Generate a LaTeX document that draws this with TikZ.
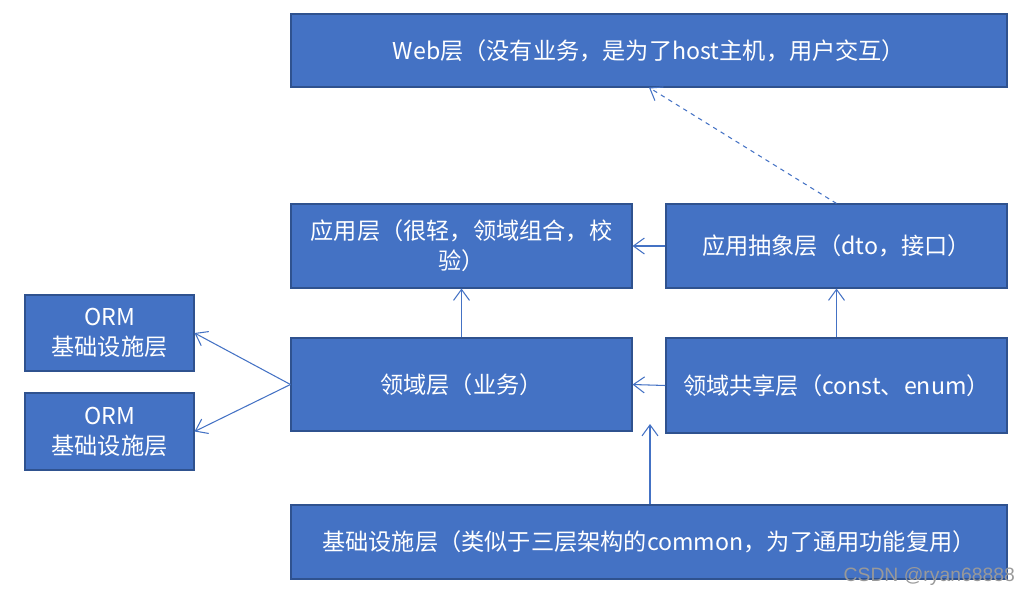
\documentclass[tikz,border=0pt]{standalone}
\usepackage{fontspec}
\setmainfont{Noto Sans CJK SC}
\newfontfamily\wmfont{Liberation Sans}
\usetikzlibrary{arrows.meta}
\definecolor{layerblue}{HTML}{4472C4}
\definecolor{layeredge}{HTML}{2F528F}

\begin{document}
\begin{tikzpicture}[every node/.style={font=\fontsize{13.2}{17}\selectfont}, layer/.style={draw=layeredge, line width=0.6pt, fill=layerblue, text=white, align=center, inner sep=0pt}, link/.style={draw=layerblue, line width=0.6pt, -{Straight Barb[length=2.2mm, width=3.2mm]}}]
	\useasboundingbox (0,0) rectangle (20.5,11.88);
	\node[layer, minimum width=14.32cm, minimum height=1.46cm] (web) at (12.98,10.87) {Web层（没有业务，是为了host主机，用户交互）};
	\node[layer, minimum width=6.82cm, minimum height=1.68cm] (app) at (9.23,6.96) {应用层（很轻，领域组合，校\\验）};
	\node[layer, minimum width=6.82cm, minimum height=1.68cm] (appabs) at (16.73,6.96) {应用抽象层（dto，接口）};
	\node[layer, minimum width=6.82cm, minimum height=1.86cm] (domain) at (9.23,4.19) {领域层（业务）};
	\node[layer, minimum width=6.82cm, minimum height=1.9cm] (shared) at (16.73,4.17) {领域共享层（const、enum）};
	\node[layer, minimum width=3.38cm, minimum height=1.52cm] (orma) at (2.19,5.22) {ORM\\基础设施层};
	\node[layer, minimum width=3.38cm, minimum height=1.54cm] (ormb) at (2.19,3.25) {ORM\\基础设施层};
	\node[layer, minimum width=14.32cm, minimum height=1.48cm] (infra) at (12.98,1.04) {基础设施层（类似于三层架构的common，为了通用功能复用）};
	\coordinate (infratip) at (13.0,3.4);
	% connectors
	\draw[link, dashed, dash pattern=on 2.5pt off 2.5pt] (appabs.north) -- (web.south);
	\draw[link] (appabs.west) -- (app.east);
	\draw[link] (domain.north) -- (app.south);
	\draw[link] (shared.north) -- (appabs.south);
	\draw[link] (shared.west) -- (domain.east);
	\draw[link] (domain.west) -- (orma.east);
	\draw[link] (domain.west) -- (ormb.east);
	\draw[link] (infra.north -| infratip) -- (infratip);
	% watermark
	\node[anchor=east, text=black!40, font=\wmfont\fontsize{11}{13}\selectfont] (wm) at (20.42,0.36) {CSDN @ryan68888};
\end{tikzpicture}
\end{document}
